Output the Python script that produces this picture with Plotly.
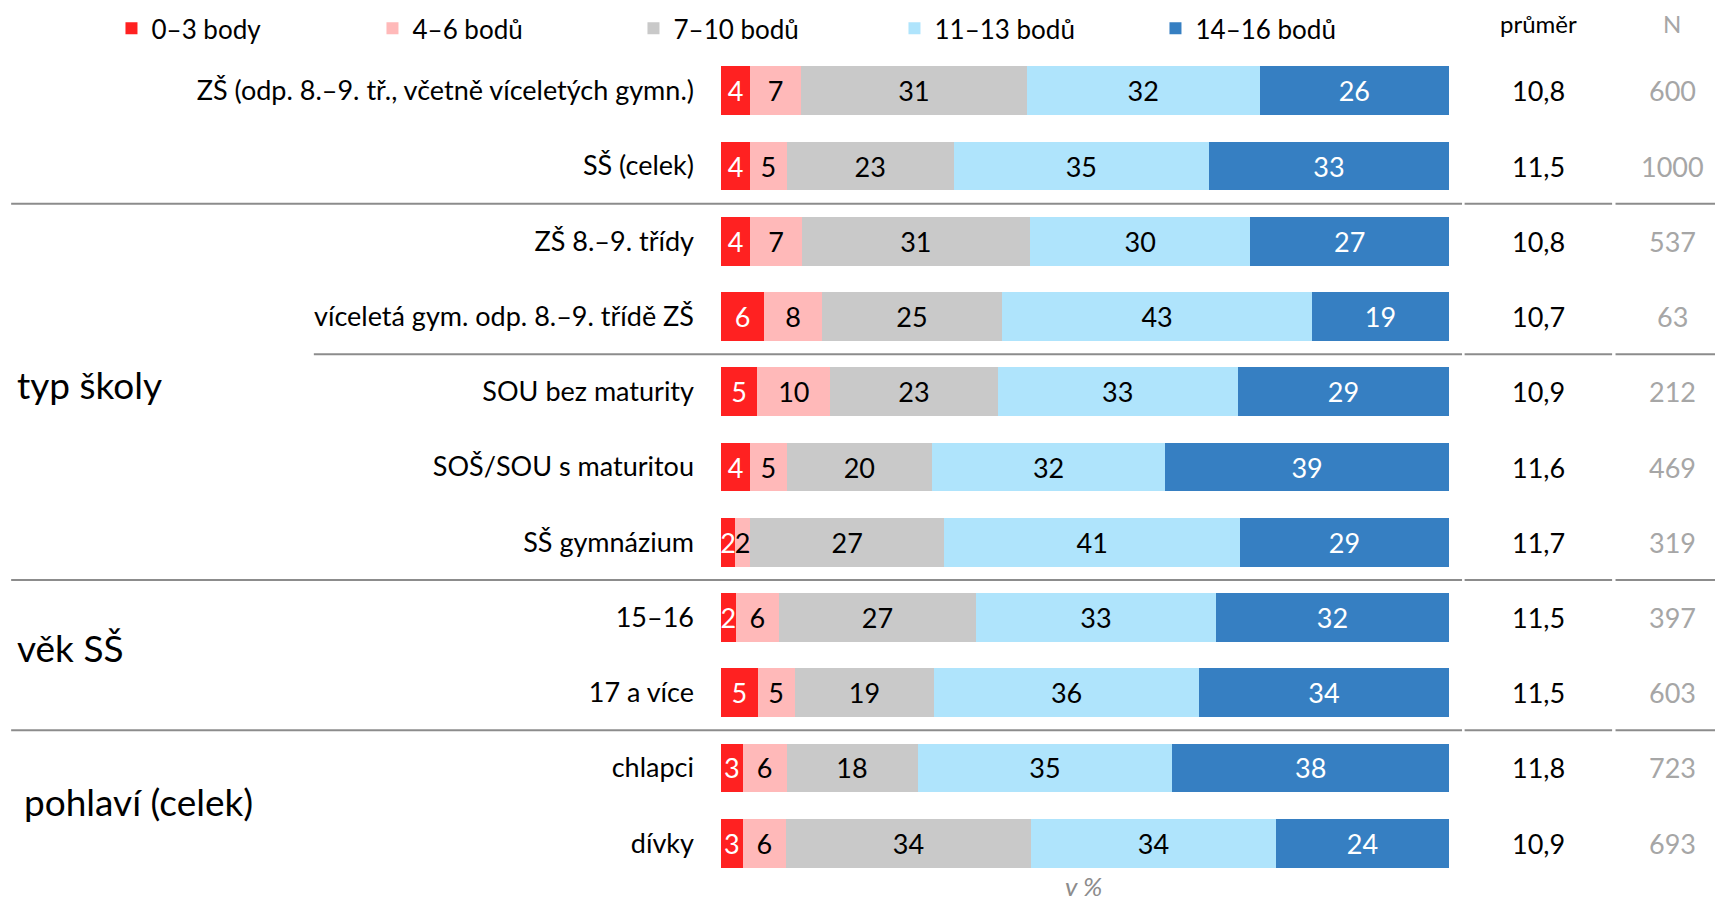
import plotly.graph_objects as go

# row labels, top to bottom
labels = [
    "ZŠ (odp. 8.–9. tř., včetně víceletých gymn.)",
    "SŠ (celek)",
    "ZŠ 8.–9. třídy",
    "víceletá gym. odp. 8.–9. třídě ZŠ",
    "SOU bez maturity",
    "SOŠ/SOU s maturitou",
    "SŠ gymnázium",
    "15–16",
    "17 a více",
    "chlapci",
    "dívky",
]

series_names = ["0–3 body", "4–6 bodů", "7–10 bodů", "11–13 bodů", "14–16 bodů"]
b0_3 = [4, 4, 4, 6, 5, 4, 2, 2, 5, 3, 3]
b4_6 = [7, 5, 7, 8, 10, 5, 2, 6, 5, 6, 6]
b7_10 = [31, 23, 31, 25, 23, 20, 27, 27, 19, 18, 34]
b11_13 = [32, 35, 30, 43, 33, 32, 41, 33, 36, 35, 34]
b14_16 = [26, 33, 27, 19, 29, 39, 29, 32, 34, 38, 24]

prumer = ["10,8", "11,5", "10,8", "10,7", "10,9", "11,6", "11,7", "11,5", "11,5", "11,8", "10,9"]
n_resp = [600, 1000, 537, 63, 212, 469, 319, 397, 603, 723, 693]

groups = ["typ školy", "věk SŠ", "pohlaví (celek)"]
group_rows = [3.91, 7.4, 9.45]
group_x = [0.009, 0.009, 0.013]

colors = ["#FF2121", "#FFB9B9", "#C9C9C9", "#AFE4FC", "#367FC2"]
text_colors = ["white", "black", "black", "black", "white"]

FONT = "Lato"
FS = 27
rows = list(range(len(labels)))
series = [b0_3, b4_6, b7_10, b11_13, b14_16]
totals = [sum(s[i] for s in series) for i in rows]

fig = go.Figure()
for name, vals, col, tcol in zip(series_names, series, colors, text_colors):
    fig.add_trace(go.Bar(
        y=rows,
        x=[v / t * 100 for v, t in zip(vals, totals)],
        text=[str(v) for v in vals],
        orientation="h",
        name=name,
        marker=dict(color=col, line=dict(width=0)),
        textposition="inside",
        insidetextanchor="middle",
        textangle=0,
        textfont=dict(color=tcol, size=FS, family=FONT),
        hoverinfo="skip",
    ))

annotations = []
for i in rows:
    annotations.append(dict(x=0.8968, y=i, xref="paper", yref="y", text=prumer[i],
                            showarrow=False, xanchor="center",
                            font=dict(size=FS, color="black", family=FONT)))
    annotations.append(dict(x=0.975, y=i, xref="paper", yref="y", text=str(n_resp[i]),
                            showarrow=False, xanchor="center",
                            font=dict(size=FS, color="#A6A6A6", family=FONT)))

annotations.append(dict(x=0.8968, y=0.974, xref="paper", yref="paper", text="průměr",
                        showarrow=False, xanchor="center", yanchor="middle",
                        font=dict(size=24, color="black", family=FONT)))
annotations.append(dict(x=0.975, y=0.974, xref="paper", yref="paper", text="N",
                        showarrow=False, xanchor="center", yanchor="middle",
                        font=dict(size=24, color="#A6A6A6", family=FONT)))
annotations.append(dict(x=0.632, y=0.0, xref="paper", yref="paper", text="<i>v %</i>",
                        showarrow=False, xanchor="center", yanchor="bottom",
                        font=dict(size=26, color="#8C8C8C", family=FONT)))

for g, r, gx in zip(groups, group_rows, group_x):
    annotations.append(dict(x=gx, y=r, xref="paper", yref="y", text=g,
                            showarrow=False, xanchor="left",
                            font=dict(size=37, color="black", family=FONT)))

# separator lines between row groups
shapes = []
for yb, x0 in [(1.5, 0.0065), (3.5, 0.183), (6.5, 0.0065), (8.5, 0.0065)]:
    for a, b in [(x0, 0.8525), (0.854, 0.940), (0.942, 1.0)]:
        shapes.append(dict(type="line", xref="paper", yref="y", x0=a, x1=b, y0=yb, y1=yb,
                           line=dict(color="#8C8C8C", width=2)))

fig.update_layout(
    width=1715,
    height=904,
    barmode="stack",
    bargap=0.35,
    plot_bgcolor="white",
    paper_bgcolor="white",
    margin=dict(l=0, r=0, t=0, b=0),
    font=dict(family=FONT, size=FS, color="black"),
    xaxis=dict(domain=[0.4204, 0.8449], range=[0, 100], visible=False, fixedrange=True),
    yaxis=dict(domain=[0.0256, 0.9412], range=[10.5, -0.5], tickmode="array",
               tickvals=rows, ticktext=labels, showgrid=False, zeroline=False,
               showline=False, ticks="", ticklabelstandoff=26, fixedrange=True,
               tickfont=dict(size=FS, family=FONT, color="black")),
    uniformtext=dict(minsize=FS, mode="show"),
    showlegend=True,
    legend=dict(orientation="h", x=0.065, y=0.9945, xanchor="left", yanchor="top",
                entrywidth=216, entrywidthmode="pixels", traceorder="normal",
                font=dict(size=26, family=FONT), itemclick=False),
    annotations=annotations,
    shapes=shapes,
)

fig.write_html("out.html", config={"displayModeBar": False},
               post_script="document.body.style.margin='0';")
